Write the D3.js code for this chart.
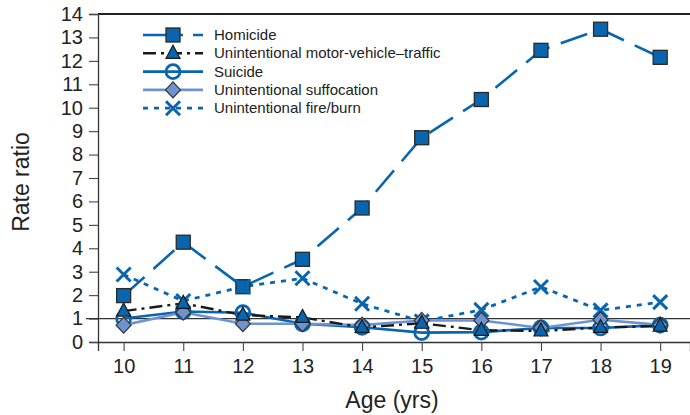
<!DOCTYPE html>
<html>
<head>
<meta charset="utf-8">
<script src="https://cdn.jsdelivr.net/npm/d3@7"></script>
<style>
  body { margin: 0; background: #fff; }
  text { font-family: "Liberation Sans", Arial, sans-serif; fill: #222; }
</style>
</head>
<body>
<svg id="chart"></svg>
<script>
// data
const ages = [10, 11, 12, 13, 14, 15, 16, 17, 18, 19];
const homicide = [1.98, 4.26, 2.36, 3.53, 5.72, 8.72, 10.35, 12.45, 13.35, 12.15];
const motorVehicle = [1.32, 1.65, 1.15, 1.05, 0.62, 0.8, 0.5, 0.47, 0.62, 0.68];
const suicide = [1.0, 1.3, 1.25, 0.78, 0.63, 0.4, 0.42, 0.6, 0.6, 0.72];
const suffocation = [0.72, 1.27, 0.78, 0.78, 0.72, 0.92, 0.92, 0.6, 0.95, 0.73];
const fireBurn = [2.88, 1.75, 2.36, 2.72, 1.63, 0.88, 1.37, 2.35, 1.35, 1.7];
const yTicks = d3.range(0, 15);
const seriesNames = ["Homicide", "Unintentional motor-vehicle\u2013traffic", "Suicide",
  "Unintentional suffocation", "Unintentional fire/burn"];

const canvWidth = 690, canvHeight = 415;
const margin = { top: 14, right: 0, bottom: 73, left: 98 };
const width = canvWidth - margin.left - margin.right;
const height = canvHeight - margin.top - margin.bottom;

const blue = "#0865ae";
const lightBlue = "#6f93d0";

const svg = d3.select("#chart")
  .attr("width", canvWidth)
  .attr("height", canvHeight);

const g = svg.append("g")
  .attr("transform", "translate(" + margin.left + "," + margin.top + ")");

const x = d3.scaleLinear().domain([9.57, 19.5]).range([0, width]);
const y = d3.scaleLinear().domain([0, 14]).range([height, 0]);

// frame: top line
g.append("line")
  .attr("x1", 0).attr("x2", width + 2)
  .attr("y1", 0).attr("y2", 0)
  .attr("stroke", "#222").attr("stroke-width", 2.2);

// axes
const yAxis = g.append("g")
  .call(d3.axisLeft(y).tickValues(yTicks).tickSize(9).tickPadding(6));
const xAxis = g.append("g")
  .attr("transform", "translate(0," + height + ")")
  .call(d3.axisBottom(x).tickValues(ages).tickSize(9).tickPadding(8));

[xAxis, yAxis].forEach(function (a) {
  a.select(".domain").attr("stroke", "#333").attr("stroke-width", 1.3);
  a.selectAll(".tick line").attr("stroke", "#444").attr("stroke-width", 1.1);
  a.selectAll("text").style("font-size", "20px")
    .style("font-family", "Liberation Sans, Arial, sans-serif").attr("fill", "#222");
});

// reference line at 1
g.append("line")
  .attr("x1", -12).attr("x2", width + 2)
  .attr("y1", y(1)).attr("y2", y(1))
  .attr("stroke", "#333").attr("stroke-width", 1.2);

// axis titles
svg.append("text")
  .attr("transform", "translate(29," + (margin.top + y(7) + 4) + ") rotate(-90)")
  .attr("text-anchor", "middle")
  .style("font-size", "23px")
  .text("Rate ratio");
svg.append("text")
  .attr("x", 392).attr("y", 408)
  .attr("text-anchor", "middle")
  .style("font-size", "23px")
  .text("Age (yrs)");

const line = d3.line()
  .x(function (d, i) { return x(ages[i]); })
  .y(function (d) { return y(d); });

// drawing order: later ones sit on top
const series = [
  { name: seriesNames[0], values: homicide, color: blue, dash: "28,12", width: 2.6, marker: "square" },
  { name: seriesNames[4], values: fireBurn, color: blue, dash: "5,6", width: 2.8, marker: "x" },
  { name: seriesNames[2], values: suicide, color: blue, dash: null, width: 2.6, marker: "circle" },
  { name: seriesNames[3], values: suffocation, color: lightBlue, dash: null, width: 2.6, marker: "diamond" },
  { name: seriesNames[1], values: motorVehicle, color: "#1a1a1a", dash: "13,5,3,5", width: 2.4, marker: "triangle" }
];

function drawMarker(sel, type, cx, cy) {
  if (type === "square") {
    sel.append("rect")
      .attr("x", cx - 7).attr("y", cy - 7).attr("width", 14).attr("height", 14)
      .attr("fill", blue).attr("stroke", "#2a2a2a").attr("stroke-width", 1.3);
  } else if (type === "circle") {
    sel.append("circle")
      .attr("cx", cx).attr("cy", cy).attr("r", 7)
      .attr("fill", "none").attr("stroke", blue).attr("stroke-width", 2.8);
  } else if (type === "diamond") {
    sel.append("path")
      .attr("d", "M" + cx + "," + (cy - 8) + "L" + (cx + 7.5) + "," + cy + "L" + cx + "," + (cy + 8) + "L" + (cx - 7.5) + "," + cy + "Z")
      .attr("fill", lightBlue).attr("stroke", "#333").attr("stroke-width", 1.2);
  } else if (type === "triangle") {
    sel.append("path")
      .attr("d", "M" + cx + "," + (cy - 8) + "L" + (cx + 7) + "," + (cy + 5) + "L" + (cx - 7) + "," + (cy + 5) + "Z")
      .attr("fill", blue).attr("stroke", "#1a1a1a").attr("stroke-width", 1.2);
  } else if (type === "x") {
    sel.append("path")
      .attr("d", "M" + (cx - 7) + "," + (cy - 7) + "L" + (cx + 7) + "," + (cy + 7) +
        "M" + (cx + 7) + "," + (cy - 7) + "L" + (cx - 7) + "," + (cy + 7))
      .attr("fill", "none").attr("stroke", blue).attr("stroke-width", 3);
  }
}

// lines
series.forEach(function (s) {
  g.append("path")
    .datum(s.values)
    .attr("d", line)
    .attr("fill", "none")
    .attr("stroke", s.color)
    .attr("stroke-width", s.width)
    .attr("stroke-dasharray", s.dash);
});

// markers
series.forEach(function (s) {
  const mg = g.append("g");
  s.values.forEach(function (v, i) {
    drawMarker(mg, s.marker, x(ages[i]), y(v));
  });
});

// legend, in the order of seriesNames
const legend = svg.append("g");
seriesNames.forEach(function (name, i) {
  const s = series.find(function (d) { return d.name === name; });
  const ly = 35 + i * 18.3;
  const row = legend.append("g");
  row.append("line")
    .attr("x1", 143).attr("x2", 203)
    .attr("y1", ly).attr("y2", ly)
    .attr("stroke", s.color)
    .attr("stroke-width", s.width)
    .attr("stroke-dasharray", i === 0 ? "24,8,8,10,14" : s.dash);
  drawMarker(row, s.marker, 173, ly);
  row.append("text")
    .attr("x", 214).attr("y", ly + 5)
    .style("font-size", "15px")
    .text(s.name);
});
</script>
</body>
</html>
